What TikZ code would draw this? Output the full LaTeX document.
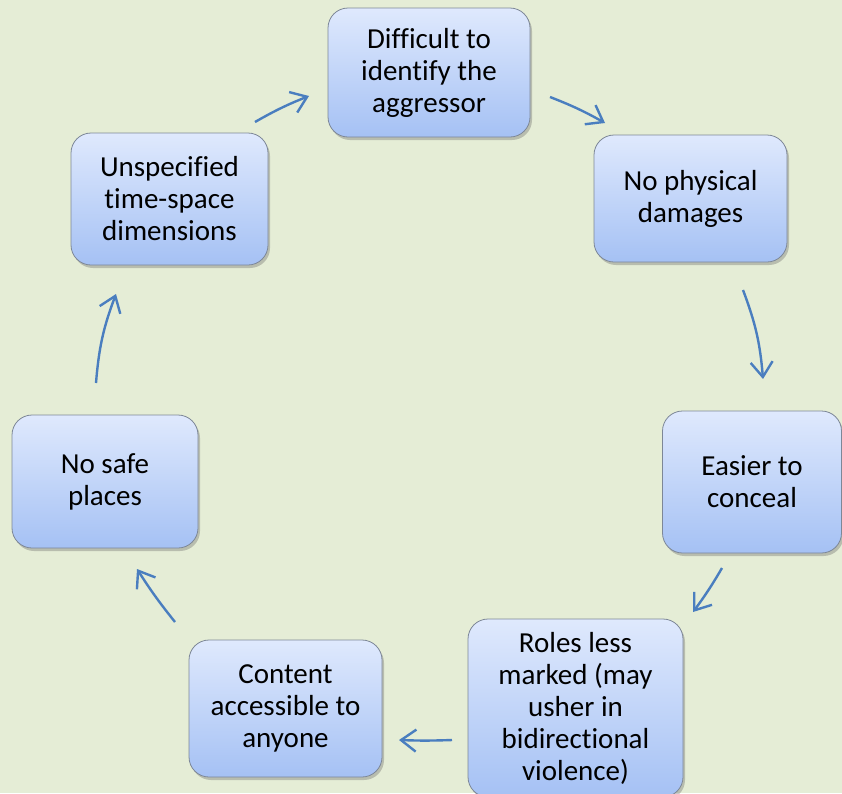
\documentclass[tikz,border=0pt]{standalone}
\usepackage{fontspec}
\setmainfont{Carlito}[Ligatures=NoCommon]
\usetikzlibrary{arrows.meta,shadows}
\definecolor{bgc}{HTML}{E5EDD6}
\definecolor{boxtop}{HTML}{DFE9FD}
\definecolor{boxbot}{HTML}{A5C1F4}
\definecolor{boxline}{HTML}{7D8797}
\definecolor{arr}{HTML}{4A7EBF}
\tikzset{
  cyclebox/.style={draw=boxline, line width=0.8pt, rounded corners=20pt,
    top color=boxtop, bottom color=boxbot, align=center,
    font=\fontsize{29}{32}\selectfont, inner sep=0pt,
    drop shadow={shadow xshift=2pt, shadow yshift=-3pt, opacity=0.35, fill=black!60}},
  cyclearrow/.style={draw=arr, line width=2.4pt,
    -{Straight Barb[length=15pt,width=22pt,line width=2.4pt]}}
}
\begin{document}
\begin{tikzpicture}[x=1pt,y=-1pt]
\fill[bgc] (0,0) rectangle (842,793);
\useasboundingbox (0,0) rectangle (842,793);

\node[cyclebox, minimum width=202pt, minimum height=129pt] (b1) at (429,72.5) {Difficult to\\identify the\\aggressor};
\node[cyclebox, minimum width=193pt, minimum height=127pt] (b2) at (690.5,198.5) {No physical\\damages};
\node[cyclebox, minimum width=179pt, minimum height=142pt] (b3) at (752,482) {Easier to\\conceal};
\node[cyclebox, minimum width=215pt, minimum height=178pt] (b4) at (575.5,708) {Roles less\\marked (may\\usher in\\bidirectional\\violence)};
\node[cyclebox, minimum width=193pt, minimum height=137pt] (b5) at (285.5,708.5) {Content\\accessible to\\anyone};
\node[cyclebox, minimum width=186pt, minimum height=133pt] (b6) at (105,481.5) {No safe\\places};
\node[cyclebox, minimum width=197pt, minimum height=132pt] (b7) at (169.5,199) {Unspecified\\time-space\\dimensions};

\coordinate (a7s) at (255,122);  \coordinate (a7e) at (309,96);
\coordinate (a1s) at (550,97);   \coordinate (a1e) at (605,123);
\coordinate (a2s) at (743,290);  \coordinate (a2e) at (763,379);
\coordinate (a3s) at (722,568);  \coordinate (a3e) at (693,612);
\coordinate (a4s) at (452,740);  \coordinate (a4e) at (399,740);
\coordinate (a5s) at (175,622);  \coordinate (a5e) at (137,569);
\coordinate (a6s) at (96,383);   \coordinate (a6e) at (116,294);

\draw[cyclearrow] (a7s) to[bend left=4] (a7e);
\draw[cyclearrow] (a1s) to[bend left=4] (a1e);
\draw[cyclearrow] (a2s) to[bend left=8] (a2e);
\draw[cyclearrow] (a3s) to[bend left=3] (a3e);
\draw[cyclearrow] (a4s) to[bend left=2] (a4e);
\draw[cyclearrow] (a5s) to[bend left=3] (a5e);
\draw[cyclearrow] (a6s) to[bend left=8] (a6e);
\end{tikzpicture}
\end{document}
